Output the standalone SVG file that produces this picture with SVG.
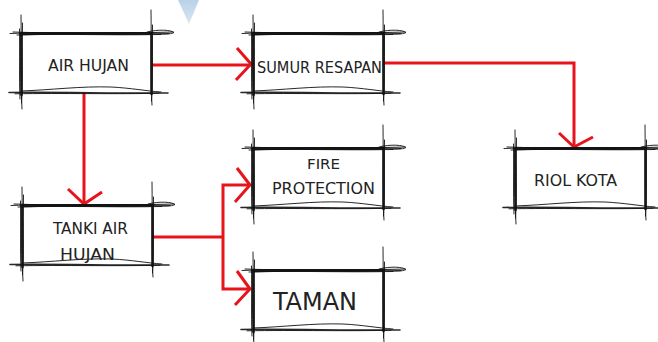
<svg xmlns="http://www.w3.org/2000/svg" xmlns:xlink="http://www.w3.org/1999/xlink" width="658" height="342" viewBox="0 0 658 342">
<style>
.sk{fill:none;stroke:#111;stroke-linecap:round;stroke-opacity:0.9}
.t1{stroke-width:1}
.t2{stroke-width:1.6}
.t3{stroke-width:2.6}
.lbl{font-family:"DejaVu Sans Condensed","Liberation Sans",sans-serif;fill:#222;text-anchor:middle}
.con{fill:none;stroke:#e8141b;stroke-width:3;stroke-linecap:butt;stroke-linejoin:miter}
</style>
<defs>
<linearGradient id="tri" x1="0" y1="0" x2="0" y2="1">
<stop offset="0" stop-color="#b9d2e8"/>
<stop offset="1" stop-color="#d8e7f3"/>
</linearGradient>
<g id="frame">
<path class="sk t1" d="M-11,0.5 C30,-1 80,1 152,-1"/>
<path class="sk t1" d="M-8,-1 C40,1 90,-1.5 148,0.5"/>
<path class="sk t1" d="M-4,2 C40,0.5 90,2.5 140,1.5"/>
<path class="sk t2" d="M0,1.5 C40,0 90,2 130,0.8"/>
<path class="sk t3" d="M0,0.3 L130,0.3"/>
<path class="sk t1" d="M126,-1 C138,-4 150,-3 153,-0.5 C150,1.5 140,1.5 132,0.8"/>
<path class="sk t2" d="M-12,59.5 C30,58.8 100,60.5 147,60"/>
<path class="sk t1" d="M0,58 C30,57 60,53 90,54 C110,55 125,58 140,59"/>
<path class="sk t1" d="M-6,60.8 C40,60 100,61.3 138,60.2"/>
<path class="sk t1" d="M0,-18 C0.5,10 -0.5,50 1,76"/>
<path class="sk t1" d="M1.5,-10 C1,20 2,50 0.5,70"/>
<path class="sk t1" d="M-1.5,-4 C-1,20 -2,45 -1,66"/>
<path class="sk t3" d="M0,2 L0.5,62"/>
<path class="sk t1" d="M130,-23 C130.5,10 129.5,50 131,72"/>
<path class="sk t1" d="M131.5,-8 C131,20 132,50 130.5,68"/>
<path class="sk t3" d="M130.5,0 L130.5,61"/>
</g>
</defs>
<rect width="658" height="342" fill="#ffffff"/>
<polygon points="178,0 199,0 189,24" fill="url(#tri)"/>

<g id="connectors">
<path class="con" d="M152,65 H251"/>
<path class="con" d="M237,48 L251,64 L236,80"/>
<path class="con" d="M84,93 V203"/>
<path class="con" d="M68,189 L84,204 L102,192"/>
<path class="con" d="M383,63 H574 V147"/>
<path class="con" d="M559,133 L574,147 L593,137"/>
<path class="con" d="M152,237 H223"/>
<path class="con" d="M250,185 H223 V289 H250"/>
<path class="con" d="M237,168 L250,185 L235,202"/>
<path class="con" d="M237,271 L250,289 L235,305"/>
</g>

<g id="air-hujan">
<use href="#frame" transform="translate(21,33)"/>
<text class="lbl" x="88.5" y="71" font-size="15" textLength="81" lengthAdjust="spacingAndGlyphs">AIR HUJAN</text>
</g>
<g id="sumur-resapan">
<use href="#frame" transform="translate(253,33)"/>
<text class="lbl" x="319.5" y="73" font-size="15" textLength="125" lengthAdjust="spacingAndGlyphs">SUMUR RESAPAN</text>
</g>
<g id="tanki-air-hujan">
<use href="#frame" transform="translate(22,205)"/>
<text class="lbl" x="90.5" y="234" font-size="15" textLength="75" lengthAdjust="spacingAndGlyphs">TANKI AIR</text>
<text class="lbl" x="87.5" y="260" font-size="15" textLength="55" lengthAdjust="spacingAndGlyphs">HUJAN</text>
</g>
<g id="fire-protection">
<use href="#frame" transform="translate(253,148)"/>
<text class="lbl" x="323.5" y="169" font-size="14" textLength="33" lengthAdjust="spacingAndGlyphs">FIRE</text>
<text class="lbl" x="323.5" y="194" font-size="15" textLength="103" lengthAdjust="spacingAndGlyphs">PROTECTION</text>
</g>
<g id="taman">
<use href="#frame" transform="translate(253,270)"/>
<text class="lbl" x="315" y="310" font-size="25" textLength="84" lengthAdjust="spacingAndGlyphs">TAMAN</text>
</g>
<g id="riol-kota">
<use href="#frame" transform="translate(515,148)"/>
<text class="lbl" x="575.5" y="186" font-size="15" textLength="83" lengthAdjust="spacingAndGlyphs">RIOL KOTA</text>
</g>
</svg>
